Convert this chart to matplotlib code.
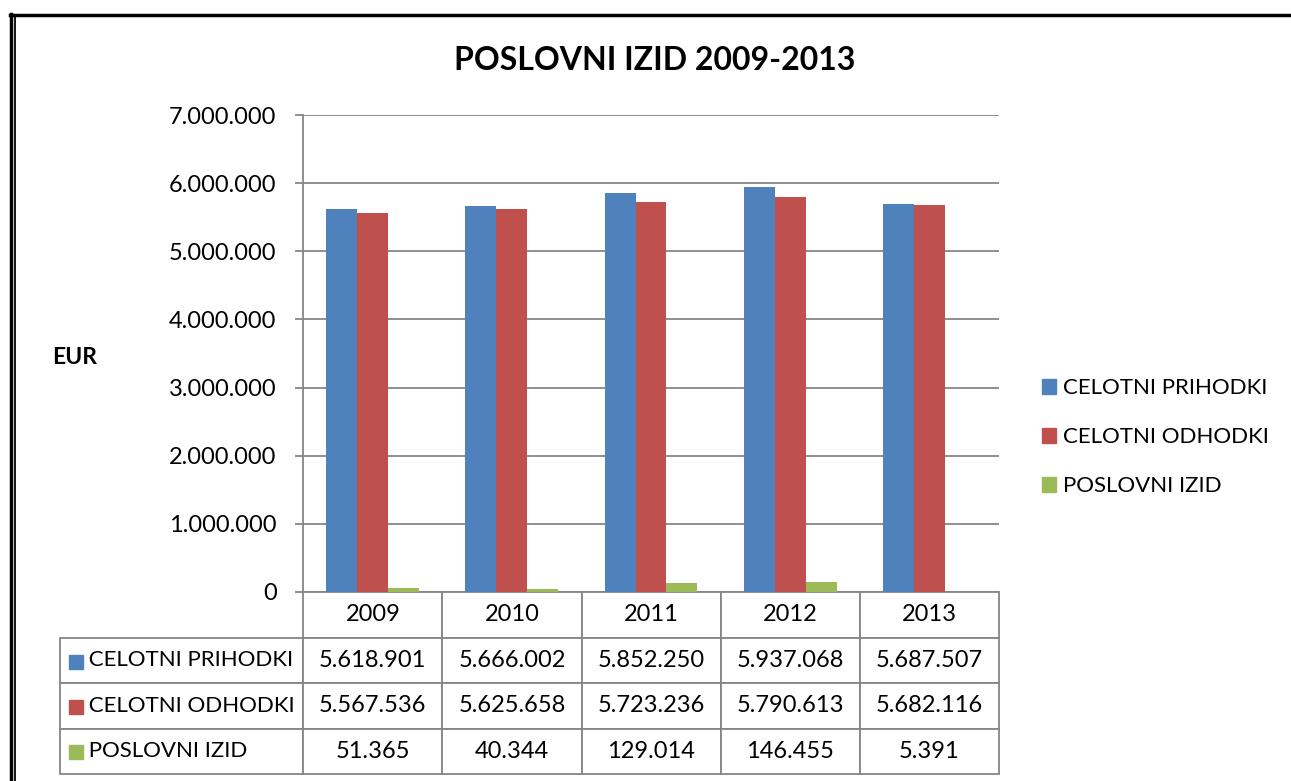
import matplotlib
matplotlib.use('Agg')
import matplotlib.pyplot as plt
from matplotlib.patches import Patch, Rectangle
from matplotlib.lines import Line2D
import numpy as np

# 데이터 ===========================================================
years = ['2009', '2010', '2011', '2012', '2013']
series_names = ['CELOTNI PRIHODKI', 'CELOTNI ODHODKI', 'POSLOVNI IZID']
prihodki = [5618901, 5666002, 5852250, 5937068, 5687507]
odhodki = [5567536, 5625658, 5723236, 5790613, 5682116]
izid = [51365, 40344, 129014, 146455, 5391]
yticks = [0, 1000000, 2000000, 3000000, 4000000, 5000000, 6000000, 7000000]

colors = ['#4F81BD', '#C0504D', '#9BBB59']
gridcol = '#868686'


def fmt(v):
    return f'{v:,}'.replace(',', '.')


plt.rcParams['font.family'] = ['Lato', 'DejaVu Sans']

W, H = 1291, 781
fig = plt.figure(figsize=(W / 100, H / 100), dpi=100)

# 플롯 영역 (픽셀 -> figure 좌표)
px0, px1, py0, py1 = 303, 999, 115, 592
ax = fig.add_axes([px0 / W, 1 - py1 / H, (px1 - px0) / W, (py1 - py0) / H])

x = np.arange(len(years))
bw = 0.222
all_series = [prihodki, odhodki, izid]
for i, vals in enumerate(all_series):
    ax.bar(x + (i - 1) * bw, vals, width=bw, color=colors[i], zorder=3)

ax.set_xlim(-0.5, len(years) - 0.5)
ax.set_ylim(0, 7000000)
ax.set_yticks(yticks)
ax.set_yticklabels([fmt(v) for v in yticks], fontsize=17)
ax.set_xticks([])
ax.grid(axis='y', color=gridcol, linewidth=1.3, zorder=0)
for s in ['top', 'right', 'bottom']:
    ax.spines[s].set_visible(False)
ax.spines['left'].set_color(gridcol)
ax.spines['left'].set_linewidth(1.3)
ax.tick_params(axis='y', length=6, width=1.3, color=gridcol, pad=13)

# 데이터 테이블 =====================================================
# 첫 열은 계열 이름, 나머지는 값
cell_text = [['     ' + series_names[i]] + [fmt(v) for v in vals]
             for i, vals in enumerate(all_series)]
tw = px1 - 60
tbl = ax.table(cellText=cell_text, colLabels=[''] + years,
               colWidths=[243 / tw] + [139 / tw] * len(years),
               cellLoc='center',
               bbox=[(60 - px0) / (px1 - px0), -(774 - py1) / (py1 - py0),
                     tw / (px1 - px0), (774 - py1) / (py1 - py0)])
tbl.auto_set_font_size(False)
tbl.set_fontsize(17)
for (r, c), cell in tbl.get_celld().items():
    cell.set_edgecolor(gridcol)
    cell.set_linewidth(1.3)
    if c == 0:
        cell.get_text().set_ha('left')
        cell.get_text().set_fontsize(16)
        cell.PAD = 0.0
    if r == 0 and c == 0:
        cell.visible_edges = ''

# 테이블 안의 색 네모
row_ys = [662, 707, 752]
for i, yc in enumerate(row_ys):
    fig.patches.append(Rectangle((69 / W, 1 - (yc + 7) / H), 14 / W, 14 / H,
                                 transform=fig.transFigure, color=colors[i]))

# 제목, 축 이름, 범례 ================================================
fig.text(655 / W, 1 - 60 / H, 'POSLOVNI IZID 2009-2013', ha='center', va='center',
         fontsize=23, fontweight='bold')
fig.text(75 / W, 1 - 357 / H, 'EUR', ha='center', va='center',
         fontsize=16.5, fontweight='bold')

handles = [Patch(color=colors[i], label=series_names[i]) for i in range(3)]
fig.legend(handles=handles, loc='center left', bbox_to_anchor=(1022 / W, 1 - 437 / H),
           frameon=False, fontsize=16, handlelength=0.65, handleheight=0.65,
           handletextpad=0.3, labelspacing=1.3)

# 바깥 테두리
fig.add_artist(Line2D([10 / W, 1], [1 - 15 / H, 1 - 15 / H], color='black', linewidth=2.5,
                      transform=fig.transFigure))
fig.add_artist(Line2D([10.5 / W, 10.5 / W], [0, 1 - 14 / H], color='black', linewidth=2.5,
                      transform=fig.transFigure))
fig.add_artist(Line2D([15 / W, 15 / W], [0, 1 - 16 / H], color='black', linewidth=1.3,
                      transform=fig.transFigure))

plt.savefig('out.png', dpi=100)
